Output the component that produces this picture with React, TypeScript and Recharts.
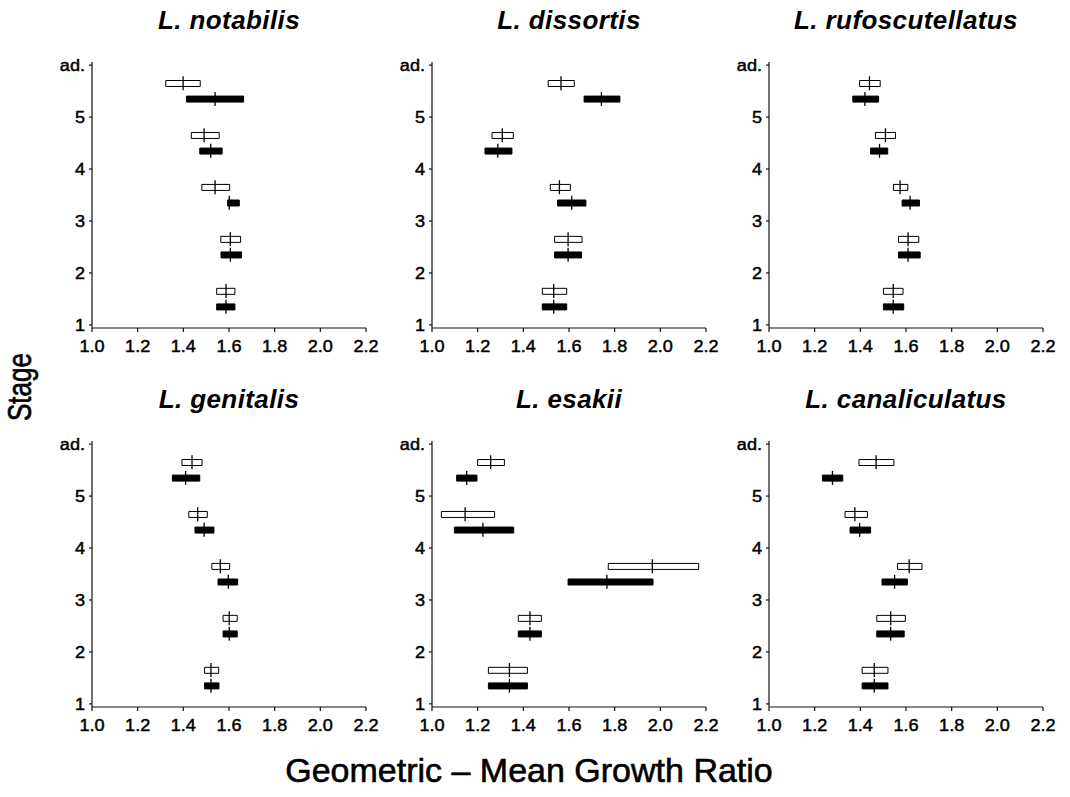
import { Bar, Cell, ComposedChart, Scatter, XAxis, YAxis } from 'recharts';

type Triple = [number, number, number]; // low, mean, high

const stages = [1, 2, 3, 4, 5];
const yTicks = [1, 2, 3, 4, 5, 6];
const xTicks = [1.0, 1.2, 1.4, 1.6, 1.8, 2.0, 2.2];
const titles = [
  'L. notabilis',
  'L. dissortis',
  'L. rufoscutellatus',
  'L. genitalis',
  'L. esakii',
  'L. canaliculatus',
];

// open boxes (upper bar of each stage) and filled boxes (lower bar), stage 1 -> 5
const notabilisOpen: Triple[] = [[1.546, 1.587, 1.626], [1.564, 1.606, 1.651], [1.481, 1.539, 1.603], [1.435, 1.491, 1.557], [1.323, 1.399, 1.474]];
const notabilisFilled: Triple[] = [[1.546, 1.587, 1.626], [1.565, 1.606, 1.655], [1.594, 1.601, 1.645], [1.472, 1.52, 1.57], [1.414, 1.539, 1.664]];

const dissortisOpen: Triple[] = [[1.483, 1.533, 1.59], [1.537, 1.596, 1.657], [1.518, 1.558, 1.606], [1.263, 1.308, 1.356], [1.509, 1.565, 1.623]];
const dissortisFilled: Triple[] = [[1.483, 1.533, 1.59], [1.537, 1.596, 1.655], [1.55, 1.612, 1.674], [1.232, 1.288, 1.35], [1.666, 1.742, 1.823]];

const rufoscutellatusOpen: Triple[] = [[1.501, 1.544, 1.587], [1.567, 1.609, 1.656], [1.545, 1.574, 1.608], [1.466, 1.51, 1.554], [1.397, 1.44, 1.487]];
const rufoscutellatusFilled: Triple[] = [[1.501, 1.544, 1.59], [1.567, 1.609, 1.662], [1.583, 1.618, 1.659], [1.445, 1.484, 1.52], [1.367, 1.42, 1.48]];

const genitalisOpen: Triple[] = [[1.493, 1.521, 1.555], [1.574, 1.601, 1.636], [1.525, 1.562, 1.603], [1.424, 1.463, 1.505], [1.394, 1.438, 1.482]];
const genitalisFilled: Triple[] = [[1.493, 1.521, 1.556], [1.574, 1.601, 1.636], [1.552, 1.597, 1.638], [1.451, 1.491, 1.534], [1.352, 1.41, 1.472]];

const esakiiOpen: Triple[] = [[1.247, 1.339, 1.418], [1.378, 1.429, 1.479], [1.772, 1.965, 2.168], [1.041, 1.145, 1.274], [1.2, 1.257, 1.317]];
const esakiiFilled: Triple[] = [[1.247, 1.339, 1.418], [1.378, 1.429, 1.479], [1.596, 1.766, 1.968], [1.098, 1.223, 1.358], [1.108, 1.152, 1.197]];

const canaliculatusOpen: Triple[] = [[1.408, 1.461, 1.521], [1.472, 1.533, 1.597], [1.563, 1.614, 1.67], [1.333, 1.376, 1.431], [1.394, 1.469, 1.547]];
const canaliculatusFilled: Triple[] = [[1.408, 1.461, 1.521], [1.472, 1.533, 1.592], [1.495, 1.55, 1.606], [1.355, 1.397, 1.445], [1.234, 1.278, 1.323]];

const panels = [
  [notabilisOpen, notabilisFilled],
  [dissortisOpen, dissortisFilled],
  [rufoscutellatusOpen, rufoscutellatusFilled],
  [genitalisOpen, genitalisFilled],
  [esakiiOpen, esakiiFilled],
  [canaliculatusOpen, canaliculatusFilled],
];

const FONT = '"Liberation Sans", Arial, Helvetica, sans-serif';
const plotLefts = [92, 432, 769];
const plotTops = [62, 441];
const PLOT_W = 274;
const PLOT_H = 266;
const Y_AXIS_W = 50;
const TOP_PAD = 10;
const RIGHT_PAD = 20;
const X_AXIS_H = 30;

type Row = { stage: number; range: [number, number]; mean: number; filled: boolean };

function buildRows(open: Triple[], filled: Triple[]): Row[] {
  const rows: Row[] = [];
  stages.forEach((s, i) => {
    rows.push({ stage: s + 0.35, range: [filled[i][0], filled[i][2]], mean: filled[i][1], filled: true });
    rows.push({ stage: s + 0.65, range: [open[i][0], open[i][2]], mean: open[i][1], filled: false });
  });
  return rows;
}

// the scanned figure is a little stretched sideways, so tick text is widened
const tickStyle = {
  fontFamily: FONT,
  fontSize: '16px',
  fill: '#000',
  stroke: '#000',
  strokeWidth: 0.45,
};

const XTick = (props: any) => {
  const { x, y, payload } = props;
  return (
    <g transform={`translate(${x},${y})`}>
      <text x={0} y={0} dy={12} textAnchor="middle" transform="scale(1.13,1)" style={tickStyle}>
        {Number(payload.value).toFixed(1)}
      </text>
    </g>
  );
};

const YTick = (props: any) => {
  const { x, y, payload } = props;
  const v = Number(payload.value);
  return (
    <g transform={`translate(${x},${y})`}>
      <text x={0} y={0} dy={6} textAnchor="end" transform="scale(1.13,1)" style={tickStyle}>
        {v === 6 ? 'ad.' : String(v)}
      </text>
    </g>
  );
};

const MeanTick = (props: any) => {
  const { cx, cy } = props;
  if (cx == null || cy == null) return null;
  return <line x1={cx} x2={cx} y1={cy - 7} y2={cy + 7} stroke="#000" strokeWidth={1.3} />;
};

function Panel({ index }: { index: number }) {
  const [open, filled] = panels[index];
  const rows = buildRows(open, filled);
  const col = index % 3;
  const row = Math.floor(index / 3);
  const left = plotLefts[col] - Y_AXIS_W;
  const top = plotTops[row] - TOP_PAD;
  const width = Y_AXIS_W + PLOT_W + RIGHT_PAD;
  const height = TOP_PAD + PLOT_H + X_AXIS_H;

  return (
    <div style={{ position: 'absolute', left, top }}>
      <div
        style={{
          position: 'absolute',
          left: Y_AXIS_W - 20,
          width: PLOT_W + 40,
          top: -47,
          textAlign: 'center',
          fontFamily: FONT,
          fontStyle: 'italic',
          fontWeight: 'bold',
          fontSize: 26,
          letterSpacing: 0.4,
          lineHeight: '30px',
          whiteSpace: 'nowrap',
        }}
      >
        {titles[index]}
      </div>
      <ComposedChart
        width={width}
        height={height}
        data={rows}
        layout="vertical"
        margin={{ top: TOP_PAD, right: RIGHT_PAD, bottom: 0, left: 0 }}
      >
        <XAxis
          type="number"
          domain={[1.0, 2.2]}
          ticks={xTicks}
          allowDataOverflow
          height={X_AXIS_H}
          tickSize={4}
          tickMargin={8}
          tick={<XTick />}
          stroke="#111"
          strokeWidth={1.2}
          interval={0}
        />
        <YAxis
          type="number"
          dataKey="stage"
          domain={[0.94, 6.06]}
          ticks={yTicks}
          reversed
          allowDataOverflow
          width={Y_AXIS_W}
          tickSize={3}
          tickMargin={4}
          tick={<YTick />}
          stroke="#111"
          strokeWidth={1.2}
          interval={0}
        />
        <Bar dataKey="range" barSize={6} isAnimationActive={false} stroke="#000" strokeWidth={1}>
          {rows.map((r, i) => (
            <Cell key={i} fill={r.filled ? '#000' : '#fff'} />
          ))}
        </Bar>
        <Scatter dataKey="mean" shape={MeanTick} isAnimationActive={false} />
      </ComposedChart>
    </div>
  );
}

export default function App() {
  return (
    <div
      style={{
        position: 'absolute',
        left: 0,
        top: 0,
        width: 1070,
        height: 797,
        background: '#fff',
        fontFamily: FONT,
      }}
    >
      {[0, 1, 2, 3, 4, 5].map((i) => (
        <Panel key={i} index={i} />
      ))}
      <div
        style={{
          position: 'absolute',
          left: 20,
          top: 387,
          transform: 'translate(-50%, -50%) rotate(-90deg) scale(0.9, 1.12)',
          fontSize: 29,
          lineHeight: '34px',
          WebkitTextStroke: '0.6px #000',
          whiteSpace: 'nowrap',
        }}
      >
        Stage
      </div>
      <div
        style={{
          position: 'absolute',
          left: -6,
          width: 1070,
          top: 750,
          textAlign: 'center',
          fontSize: 34,
          lineHeight: '40px',
          WebkitTextStroke: '0.6px #000',
          whiteSpace: 'nowrap',
        }}
      >
        Geometric – Mean Growth Ratio
      </div>
    </div>
  );
}
